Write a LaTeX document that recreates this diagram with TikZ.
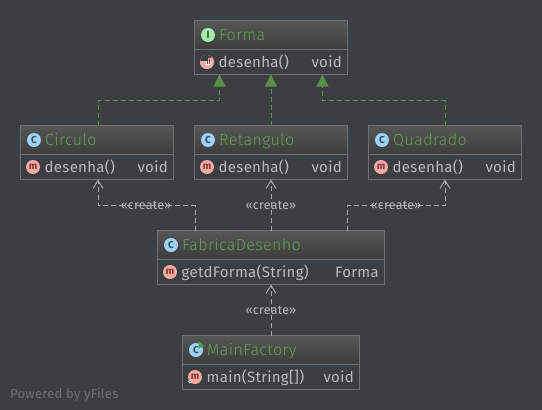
\documentclass[tikz,border=0pt]{standalone}
\usepackage{fontspec}
\setmainfont{Fira Sans}
\newfontfamily\titlefont[UprightFont={* Light},LetterSpace=2.5]{Fira Sans}
\newfontfamily\memberfont[LetterSpace=2]{Fira Sans}
\newfontfamily\smallfont[LetterSpace=2]{Fira Sans}
\usetikzlibrary{calc,arrows.meta}
\definecolor{bg}{HTML}{3C3F41}
\definecolor{edge}{HTML}{707070}
\definecolor{titlegreen}{HTML}{62A34F}
\definecolor{txt}{HTML}{BBBBBB}
\definecolor{arrowgreen}{HTML}{5A8F4A}
\definecolor{linegray}{HTML}{A8A8A8}
\definecolor{headtop}{HTML}{565656}
\definecolor{headbot}{HTML}{3D3D3D}
\definecolor{bluei}{HTML}{9CD2F7}
\definecolor{redi}{HTML}{F6A8A2}
\definecolor{greeni}{HTML}{A4EDA6}
\definecolor{inkdark}{HTML}{3A4A55}
\definecolor{inkred}{HTML}{7A3A36}
\definecolor{runarrow}{HTML}{3FA34D}
\tikzset{
  x=1pt,y=-1pt,
  umlbox/.style={draw=edge,line width=1pt,fill=bg,minimum height=54pt,inner sep=0pt,outer sep=0pt,anchor=north west},
  head/.style={draw=none,top color=headtop,bottom color=headbot,inner sep=0pt,outer sep=0pt,anchor=north west,minimum height=28pt},
  title/.style={text=titlegreen,font=\titlefont\fontsize{16}{14}\selectfont,anchor=base west,inner sep=0pt},
  member/.style={text=txt,font=\memberfont\fontsize{15}{14}\selectfont,anchor=base west,inner sep=0pt},
  rtype/.style={text=txt,font=\memberfont\fontsize{15}{14}\selectfont,anchor=base east,inner sep=0pt},
  stereo/.style={text=txt,font=\smallfont\fontsize{12.5}{12}\selectfont,inner sep=0pt},
  icon/.style={circle,minimum size=14pt,inner sep=0pt,outer sep=0pt,font=\fontsize{10}{10}\bfseries\selectfont,text=inkdark},
  realize/.style={draw=arrowgreen,line width=1pt,dash pattern=on 5pt off 3pt,-{Triangle[length=12pt,width=12pt,fill=arrowgreen]}},
  create/.style={draw=linegray,line width=1pt,dash pattern=on 5pt off 3pt,-{Straight Barb[length=8pt,width=10pt]}},
}
\newcommand{\umlclass}[9]{%
 % name, left, top, width, kind colour, kind letter, title, member, type
 \node[umlbox,minimum width=#4pt] (#1) at (#2,#3) {};
 \node[head,minimum width=#4pt-1pt] (#1h) at (#2+.5,#3+.5) {};
 \draw[edge,line width=1pt] (#2,#3+29) -- (#2+#4,#3+29);
 \draw[edge,line width=1pt] (#2,#3) rectangle (#2+#4,#3+54);
 \node[icon,fill=#5] (#1ic) at (#2+13.5,#3+14.5) {#6};
 \node[title] (#1t) at (#2+24.5,#3+20) {#7};
 \node[icon,fill=redi,text=inkred] (#1im) at (#2+12.5,#3+41.5) {m};
 \node[member] (#1m) at (#2+24,#3+47) {#8};
 \node[rtype] (#1r) at (#2+#4-5.5,#3+47) {#9};
}
\begin{document}
\begin{tikzpicture}
\useasboundingbox[fill=bg] (0,0) rectangle (542,410);
\umlclass{forma}{194.5}{20.5}{153}{greeni}{I}{Forma}{desenha()}{void}
\umlclass{circulo}{20.5}{125.5}{153}{bluei}{C}{Circulo}{desenha()}{void}
\umlclass{retangulo}{194.5}{125.5}{153}{bluei}{C}{Retangulo}{desenha()}{void}
\umlclass{quadrado}{368.5}{125.5}{153}{bluei}{C}{Quadrado}{desenha()}{void}
\umlclass{fabrica}{157.5}{230.5}{227}{bluei}{C}{FabricaDesenho}{getdForma(String)}{Forma}
\umlclass{mainf}{182.5}{335.5}{177}{bluei}{C}{MainFactory}{main(String[])}{void}
% abstract-method icon
\begin{scope}
\clip (formaim) circle (7pt);
\fill[redi] (formaim) circle (7pt);
\fill[bg] ($(formaim)+(-8,-8)$) rectangle ($(formaim)+(1,-1)$);
\fill[bg] ($(formaim)+(-8,-8)$) rectangle ($(formaim)+(3.5,-4)$);
\fill[white!85!redi] ($(formaim)+(-1.5,-1)$) rectangle ($(formaim)+(3.5,2.5)$);
\draw[inkred,line width=1pt] ($(formaim)+(0,-1)$) -- ($(formaim)+(0,2)$) ($(formaim)+(2.5,-3)$) -- ($(formaim)+(2.5,2)$);
\end{scope}
% run marker and gear
\fill[runarrow] ($(mainfic)+(2.5,-9)$) -- ($(mainfic)+(8,-4.5)$) -- ($(mainfic)+(2.5,-1)$) -- cycle;
\node[circle,draw=white!80!bg,fill=bg,line width=1pt,minimum size=3pt,inner sep=0pt] (gear) at ($(mainfim)+(-5,4.5)$) {};
\draw[realize] ($(circulo.north)+(1,0)$) -- ++(0,-25) -| ($(forma.south)+(-51.5,0)$);
\draw[realize] (retangulo.north) -- (forma.south);
\draw[realize] (quadrado.north) -- ++(0,-25) -| ($(forma.south)+(51.5,0)$);
\draw[create] ($(fabrica.north)+(-76,0)$) -- ++(0,-25) -| ($(circulo.south)+(1,0)$);
\draw[create] (fabrica.north) -- (retangulo.south);
\draw[create] ($(fabrica.north)+(76,0)$) -- ++(0,-25) -| (quadrado.south);
\draw[create] (mainf.north) -- (fabrica.south);
\node[stereo] (s1) at (146,205) {«create»};
\node[stereo] (s2) at (271,205) {«create»};
\node[stereo] (s3) at (396,205) {«create»};
\node[stereo] (s4) at (271,310) {«create»};
\node[text=edge,font=\smallfont\fontsize{13}{13}\selectfont,anchor=base west,inner sep=0pt] (yf) at (10,398) {Powered by yFiles};
\end{tikzpicture}
\end{document}
